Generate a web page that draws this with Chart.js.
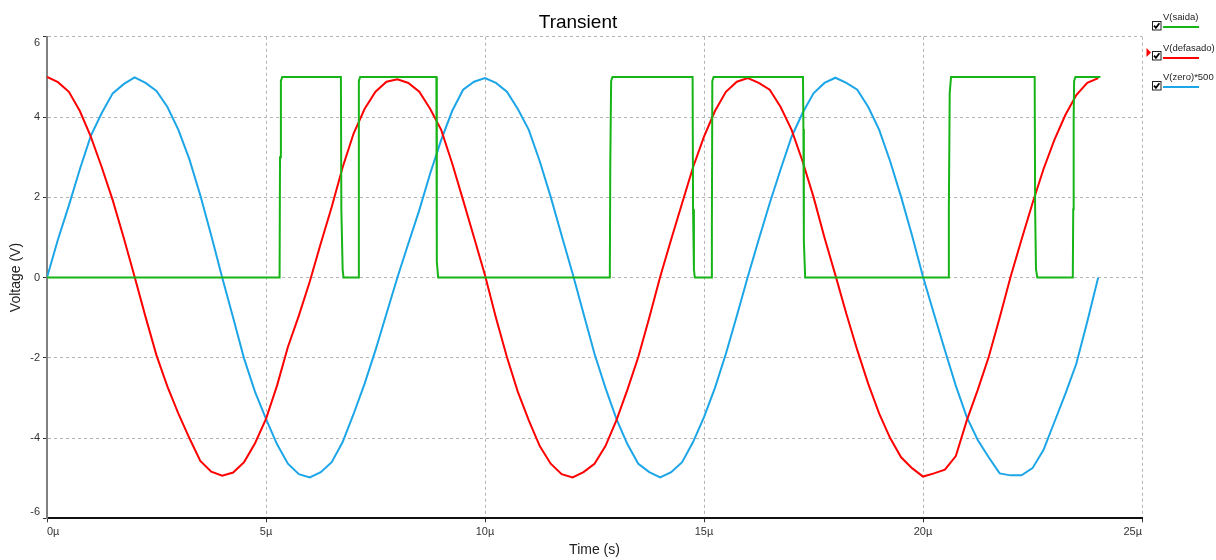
<!DOCTYPE html>
<html>
<head>
<meta charset="utf-8">
<title>Transient</title>
<script src="https://cdn.jsdelivr.net/npm/chart.js@4.4.1/dist/chart.umd.min.js"></script>
<style>
  body { margin: 0; background: #fff; }
  #wrap { position: relative; width: 1216px; height: 560px; overflow: hidden; }
  #chart { position: absolute; left: 0; top: 0; }
  .lg-text { position: absolute; left: 1163px; font: 9.5px "Liberation Sans", Arial, sans-serif; line-height: 10px; color: #222; white-space: nowrap; }
  .lg-line { position: absolute; left: 1163px; width: 36px; height: 2px; }
  .lg-box, .lg-mark { position: absolute; line-height: 0; }
  .lg-box { left: 1152px; }
  .lg-mark { left: 1146px; }
  .lg-box svg, .lg-mark svg { display: block; }
</style>
</head>
<body>
<div id="wrap">
  <canvas id="chart" width="1216" height="560"></canvas>
  <div id="legend"></div>
</div>
<script>
const FONT = "'Liberation Sans', Arial, sans-serif";

// time axis in microseconds (sine traces)
const timeUs = [
  0, 0.25, 0.5, 0.75, 1, 1.25, 1.5, 1.75, 2, 2.25, 2.5, 2.75, 3, 3.25, 3.5, 3.75,
  4, 4.25, 4.5, 4.75, 5, 5.25, 5.5, 5.75, 6, 6.25, 6.5, 6.75, 7, 7.25, 7.5, 7.75,
  8, 8.25, 8.5, 8.75, 9, 9.25, 9.5, 9.75, 10, 10.25, 10.5, 10.75, 11, 11.25, 11.5, 11.75,
  12, 12.25, 12.5, 12.75, 13, 13.25, 13.5, 13.75, 14, 14.25, 14.5, 14.75, 15, 15.25, 15.5, 15.75,
  16, 16.25, 16.5, 16.75, 17, 17.25, 17.5, 17.75, 18, 18.25, 18.5, 18.75, 19, 19.25, 19.5, 19.75,
  20, 20.25, 20.5, 20.75, 21, 21.25, 21.5, 21.75, 22, 22.25, 22.5, 22.75, 23, 23.25, 23.5, 23.75, 24
];

const defasado = [
  5.00, 4.87, 4.63, 4.15, 3.51, 2.75, 1.93, 1.00, 0.02, -0.98, -1.94, -2.72, -3.39, -4.00, -4.57, -4.84,
  -4.94, -4.86, -4.60, -4.13, -3.52, -2.70, -1.73, -0.95, -0.10, 0.85, 1.76, 2.75, 3.59, 4.20, 4.63, 4.88,
  4.94, 4.85, 4.63, 4.20, 3.68, 2.85, 1.93, 1.00, 0.06, -1.00, -1.98, -2.85, -3.56, -4.20, -4.64, -4.90,
  -4.98, -4.85, -4.64, -4.20, -3.56, -2.80, -1.98, -1.00, 0.02, 0.95, 1.85, 2.75, 3.51, 4.15, 4.63, 4.88,
  4.97, 4.85, 4.68, 4.25, 3.68, 2.90, 2.01, 1.00, 0.06, -0.90, -1.81, -2.65, -3.39, -4.00, -4.48, -4.75,
  -4.96, -4.88, -4.79, -4.45, -3.56, -2.80, -1.98, -1.00, 0.02, 0.95, 1.85, 2.70, 3.43, 4.05, 4.55, 4.85, 4.97
];

const zero500 = [
  0.00, 0.95, 1.80, 2.70, 3.53, 4.10, 4.59, 4.82, 4.99, 4.85, 4.65, 4.25, 3.68, 2.95, 2.05, 1.05,
  0.00, -1.00, -2.02, -2.85, -3.52, -4.15, -4.64, -4.90, -4.98, -4.85, -4.60, -4.10, -3.40, -2.65, -1.81, -0.90,
  0.00, 0.85, 1.68, 2.60, 3.43, 4.15, 4.68, 4.88, 4.97, 4.85, 4.63, 4.20, 3.68, 2.90, 2.01, 1.05,
  0.10, -0.90, -1.90, -2.75, -3.52, -4.15, -4.64, -4.85, -4.98, -4.85, -4.60, -4.10, -3.48, -2.75, -1.90, -0.95,
  0.02, 0.95, 1.85, 2.70, 3.51, 4.10, 4.59, 4.85, 4.98, 4.85, 4.68, 4.25, 3.68, 2.90, 2.01, 1.05,
  0.02, -0.90, -1.81, -2.70, -3.48, -4.05, -4.48, -4.88, -4.93, -4.93, -4.75, -4.30, -3.60, -2.90, -2.15, -1.10, 0.00
];

// comparator output, own time points (edges)
const saidaTime = [
  0, 5.31, 5.32, 5.34, 5.37, 6.71, 6.72, 6.75, 6.77, 7.11, 7.12, 7.15,
  8.89, 8.90, 8.93, 12.85, 12.86, 12.88, 12.91, 14.74, 14.75, 14.77, 14.79,
  15.17, 15.18, 15.19, 15.22, 17.26, 17.27, 17.28, 17.31, 20.58, 20.59, 20.61, 20.64,
  22.55, 22.56, 22.58, 22.61, 23.42, 23.43, 23.44, 23.45, 23.48, 24.05
];
const saidaValue = [
  0, 0, 3.0, 4.9, 5, 5, 1.7, 0.2, 0, 0, 4.9, 5,
  5, 0.4, 0, 0, 2.8, 4.9, 5, 5, 1.7, 0.2, 0,
  0, 1.3, 4.9, 5, 5, 3.7, 0.9, 0, 0, 1.7, 4.6, 5,
  5, 1.7, 0.2, 0, 0, 1.7, 4.0, 4.9, 5, 5
];

const xMax = 25;
const yMin = -6, yMax = 6;

const SERIES = [
  { label: "V(saida)", color: "#17b417", xs: saidaTime, ys: saidaValue },
  { label: "V(defasado)", color: "#ff0000", xs: timeUs, ys: defasado },
  { label: "V(zero)*500", color: "#1ca6e8", xs: timeUs, ys: zero500 },
];

const datasets = SERIES.map((s) => ({
  label: s.label,
  data: s.xs.map((t, i) => ({ x: t, y: s.ys[i] })),
  borderColor: s.color,
  backgroundColor: s.color,
  borderWidth: 2,
  pointRadius: 0,
  tension: 0,
  fill: false,
}));

new Chart(document.getElementById("chart"), {
  type: "line",
  data: { datasets: datasets },
  options: {
    responsive: false,
    animation: false,
    events: [],
    layout: { padding: { left: 14, right: 74, top: 0, bottom: 0 } },
    plugins: {
      legend: { display: false },
      tooltip: { enabled: false },
      title: {
        display: true,
        text: "Transient",
        color: "#000",
        font: { family: FONT, size: 19, weight: "normal" },
        padding: { top: 11, bottom: 3 },
      },
    },
    scales: {
      x: {
        type: "linear",
        min: 0,
        max: xMax,
        ticks: {
          stepSize: 5,
          align: "inner",
          maxRotation: 0,
          padding: 3,
          color: "#333",
          font: { family: FONT, size: 11 },
          callback: (v) => v + "µ",
        },
        grid: { color: "#b4b4b4", tickColor: "#333", tickLength: 4 },
        border: { color: "#111", width: 2, dash: [3, 3] },
        title: {
          display: true,
          text: "Time (s)",
          color: "#222",
          font: { family: FONT, size: 14 },
          padding: { top: 0, bottom: 1 },
        },
        afterFit: (s) => { s.height = 41.7; },
      },
      y: {
        min: yMin,
        max: yMax,
        ticks: {
          stepSize: 2,
          padding: 3,
          color: "#333",
          font: { family: FONT, size: 11 },
          // first/last label pulled inside the plot, like the original
          callback: (v, i, ticks) => {
            if (i === 0) return [String(v), ""];
            if (i === ticks.length - 1) return ["", String(v)];
            return String(v);
          },
        },
        grid: { color: "#b4b4b4", tickColor: "#333", tickLength: 4 },
        border: { color: "#808080", width: 2, dash: [3, 3] },
        title: {
          display: true,
          text: "Voltage (V)",
          color: "#222",
          font: { family: FONT, size: 14 },
          padding: { top: -6, bottom: 0 },
        },
        afterFit: (s) => { s.width = 33; },
      },
    },
  },
});

// legend with check boxes on the right side
function buildLegend() {
  const legend = document.getElementById("legend");
  const baselines = [20.7, 51.3, 80.6];
  SERIES.forEach((s, i) => {
    const b = baselines[i];
    const text = document.createElement("div");
    text.className = "lg-text";
    text.style.top = (b - 8.3) + "px";
    text.textContent = s.label;
    legend.appendChild(text);

    const line = document.createElement("div");
    line.className = "lg-line";
    line.style.top = (b + 5.3) + "px";
    line.style.background = s.color;
    legend.appendChild(line);

    const box = document.createElement("div");
    box.className = "lg-box";
    box.style.top = b + "px";
    box.innerHTML = `<svg width="10" height="10" viewBox="0 0 10 10">
      <rect x="0.5" y="0.5" width="8.5" height="8.5" fill="#fff" stroke="#222" stroke-width="1"/>
      <polyline points="2,4.6 3.9,6.8 7.4,2.3" fill="none" stroke="#000" stroke-width="1.7"/>
    </svg>`;
    legend.appendChild(box);

    if (i === 1) {
      const mark = document.createElement("div");
      mark.className = "lg-mark";
      mark.style.top = (b - 3) + "px";
      mark.innerHTML = `<svg width="6" height="10" viewBox="0 0 6 10"><polygon points="0.5,0 5,4.5 0.5,9" fill="${s.color}"/></svg>`;
      legend.appendChild(mark);
    }
  });
}

buildLegend();
</script>
</body>
</html>
